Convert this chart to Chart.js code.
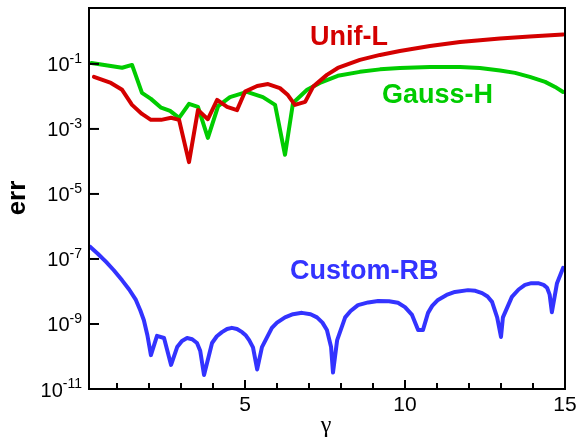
<!DOCTYPE html>
<html>
<head>
<meta charset="utf-8">
<script src="https://cdn.jsdelivr.net/npm/chart.js@4"></script>
<style>
  html, body { margin: 0; padding: 0; background: #fff; }
  #wrap { width: 579px; height: 442px; position: relative; }
</style>
</head>
<body>
<div id="wrap"><canvas id="errChart"></canvas></div>
<script>
// DATA
const unifX = [0.28, 0.81, 1.16, 1.47, 1.78, 2.06, 2.38, 2.69, 2.94, 3.25, 3.53, 3.84, 4.13, 4.44, 4.75, 5.0, 5.38, 5.72, 6.09, 6.34, 6.56, 6.88, 7.13, 7.56, 7.9, 8.59, 9.22, 9.84, 10.78, 11.72, 12.97, 13.9, 14.94];
const unifErr = [4.0e-2, 2.6e-2, 1.6e-2, 5.5e-3, 2.9e-3, 1.9e-3, 1.9e-3, 2.2e-3, 1.9e-3, 9.5e-5, 3.8e-3, 2.0e-3, 7.8e-3, 4.8e-3, 3.8e-3, 1.4e-2, 2.1e-2, 2.4e-2, 1.8e-2, 1.1e-2, 5.5e-3, 6.8e-3, 2.0e-2, 4.6e-2, 7.5e-2, 1.33e-1, 1.89e-1, 2.5e-1, 3.58e-1, 4.75e-1, 6.1e-1, 7.0e-1, 8.1e-1];

const gaussX = [0.2, 1.16, 1.47, 1.78, 2.06, 2.38, 2.66, 2.94, 3.25, 3.53, 3.84, 4.16, 4.53, 5.06, 5.56, 5.94, 6.25, 6.5, 6.94, 7.34, 7.9, 8.59, 9.22, 9.84, 10.78, 11.72, 12.34, 12.97, 13.44, 13.9, 14.38, 14.69, 14.94];
const gaussErr = [1.07e-1, 7.6e-2, 9.3e-2, 1.28e-2, 8.4e-3, 4.5e-3, 3.6e-3, 2.2e-3, 5.9e-3, 4.8e-3, 5.3e-4, 5.0e-3, 9.5e-3, 1.38e-2, 9.5e-3, 5.5e-3, 1.6e-4, 6.3e-3, 1.6e-2, 2.6e-2, 4.3e-2, 5.7e-2, 6.8e-2, 7.5e-2, 8.1e-2, 8.1e-2, 7.5e-2, 6.3e-2, 5.3e-2, 4.0e-2, 2.8e-2, 1.96e-2, 1.37e-2];

const rbX = [0.15, 0.4, 0.66, 0.9, 1.16, 1.38, 1.59, 1.73, 1.84, 1.95, 2.06, 2.25, 2.47, 2.69, 2.88, 3.03, 3.19, 3.35, 3.5, 3.6, 3.72, 3.97, 4.12, 4.28, 4.44, 4.59, 4.75, 4.91, 5.03, 5.13, 5.25, 5.38, 5.53, 5.84, 6.0, 6.25, 6.5, 6.78, 7.05, 7.25, 7.42, 7.56, 7.69, 7.75, 7.88, 8.13, 8.3, 8.53, 8.85, 9.16, 9.5, 9.78, 10.0, 10.22, 10.41, 10.56, 10.72, 10.85, 11.03, 11.3, 11.56, 11.97, 12.2, 12.41, 12.58, 12.72, 12.88, 13.0, 13.06, 13.34, 13.55, 13.75, 13.95, 14.16, 14.33, 14.44, 14.52, 14.59, 14.75, 14.94];
const rbErr = [2.4e-7, 1.45e-7, 8.1e-8, 4.5e-8, 2.2e-8, 1.15e-8, 5.5e-9, 2.6e-9, 1.3e-9, 4.5e-10, 1.1e-10, 4.3e-10, 3.7e-10, 5.5e-11, 1.95e-10, 3.0e-10, 3.7e-10, 3.4e-10, 2.6e-10, 1.5e-10, 2.7e-11, 2.6e-10, 4.2e-10, 5.6e-10, 7.0e-10, 7.6e-10, 7.0e-10, 5.6e-10, 4.4e-10, 3.2e-10, 1.9e-10, 4.0e-11, 1.95e-10, 7.6e-10, 1.1e-9, 1.6e-9, 2.0e-9, 2.2e-9, 2.0e-9, 1.6e-9, 1.1e-9, 6.5e-10, 1.95e-10, 3.2e-11, 3.2e-10, 1.6e-9, 2.5e-9, 3.8e-9, 4.6e-9, 5.1e-9, 5.0e-9, 4.5e-9, 3.3e-9, 1.9e-9, 6.5e-10, 6.5e-10, 2.2e-9, 3.6e-9, 5.5e-9, 7.8e-9, 9.7e-9, 1.1e-8, 1.05e-8, 8.9e-9, 7.0e-9, 4.8e-9, 1.6e-9, 4.0e-10, 1.6e-9, 6.8e-9, 1.15e-8, 1.6e-8, 1.8e-8, 1.8e-8, 1.6e-8, 1.3e-8, 8.0e-9, 2.3e-9, 1.8e-8, 5.3e-8];

const yTickExps = [-1, -3, -5, -7, -9, -11];
const xMajorTicks = [5, 10, 15];
const xMinorTicks = [1, 2, 3, 4, 6, 7, 8, 9, 11, 12, 13, 14];

const FONT = "'Liberation Sans', Arial, Helvetica, sans-serif";

function pts(xs, ys) {
  return xs.map((x, i) => ({ x: x, y: ys[i] }));
}

// draws frame, inward ticks, tick labels, axis titles and curve names
const decorations = {
  id: "decorations",
  afterDraw(chart) {
    const ctx = chart.ctx;
    const a = chart.chartArea;
    const xs = chart.scales.x, ys = chart.scales.y;
    ctx.save();
    ctx.strokeStyle = "#000";
    ctx.fillStyle = "#000";
    ctx.lineWidth = 2;
    ctx.strokeRect(a.left, a.top, a.right - a.left, a.bottom - a.top);

    // y ticks + labels 10^n
    yTickExps.forEach(e => {
      const py = ys.getPixelForValue(Math.pow(10, e));
      ctx.beginPath();
      ctx.moveTo(a.left, py);
      ctx.lineTo(a.left + 10, py);
      ctx.stroke();
      const ex = String(e);
      ctx.font = "14px " + FONT;
      ctx.textAlign = "right";
      ctx.textBaseline = "alphabetic";
      const ew = ctx.measureText(ex).width;
      ctx.fillText(ex, 82, py - 1);
      ctx.font = "20px " + FONT;
      ctx.fillText("10", 82 - ew, py + 7.5);
    });

    // x ticks
    xMajorTicks.forEach(v => {
      const px = xs.getPixelForValue(v);
      ctx.beginPath();
      ctx.moveTo(px, a.bottom);
      ctx.lineTo(px, a.bottom - 9);
      ctx.stroke();
      ctx.font = "21px " + FONT;
      ctx.textAlign = "center";
      ctx.textBaseline = "alphabetic";
      ctx.fillText(String(v), px, a.bottom + 22);
    });
    xMinorTicks.forEach(v => {
      const px = xs.getPixelForValue(v);
      ctx.beginPath();
      ctx.moveTo(px, a.bottom);
      ctx.lineTo(px, a.bottom - 6);
      ctx.stroke();
    });

    // axis titles
    ctx.font = "24px 'Liberation Serif', 'DejaVu Serif', serif";
    ctx.textAlign = "center";
    ctx.fillText("γ", 326, 432);

    ctx.save();
    ctx.translate(18, 198);
    ctx.rotate(-Math.PI / 2);
    ctx.font = "bold 26px " + FONT;
    ctx.textBaseline = "middle";
    ctx.fillText("err", 0, 0);
    ctx.restore();

    // curve names
    ctx.font = "bold 27px " + FONT;
    ctx.textAlign = "left";
    ctx.textBaseline = "alphabetic";
    ctx.fillStyle = "#d40000";
    ctx.fillText("Unif-L", 310, 45);
    ctx.fillStyle = "#00cc00";
    ctx.fillText("Gauss-H", 382, 103);
    ctx.fillStyle = "#3333ff";
    ctx.fillText("Custom-RB", 290, 279);
    ctx.restore();
  }
};

new Chart(document.getElementById("errChart"), {
  type: "line",
  data: {
    datasets: [
      { label: "Unif-L", data: pts(unifX, unifErr), borderColor: "#d40000" },
      { label: "Gauss-H", data: pts(gaussX, gaussErr), borderColor: "#00cc00" },
      { label: "Custom-RB", data: pts(rbX, rbErr), borderColor: "#3333ff" }
    ]
  },
  options: {
    responsive: true,
    maintainAspectRatio: false,
    animation: false,
    layout: { autoPadding: false, padding: { left: 0, right: 14, top: 8, bottom: 0 } },
    elements: {
      line: { borderWidth: 4, tension: 0, borderJoinStyle: "round", borderCapStyle: "round" },
      point: { radius: 0 }
    },
    plugins: { legend: { display: false }, tooltip: { enabled: false } },
    scales: {
      x: {
        type: "linear",
        min: 0.125,
        max: 15,
        grid: { display: false },
        border: { display: false },
        ticks: { display: false },
        afterFit: s => { s.height = 53; }
      },
      y: {
        type: "logarithmic",
        min: 1e-11,
        max: 5.25,
        grid: { display: false },
        border: { display: false },
        ticks: { display: false },
        afterFit: s => { s.width = 89; }
      }
    }
  },
  plugins: [decorations]
});
</script>
</body>
</html>
